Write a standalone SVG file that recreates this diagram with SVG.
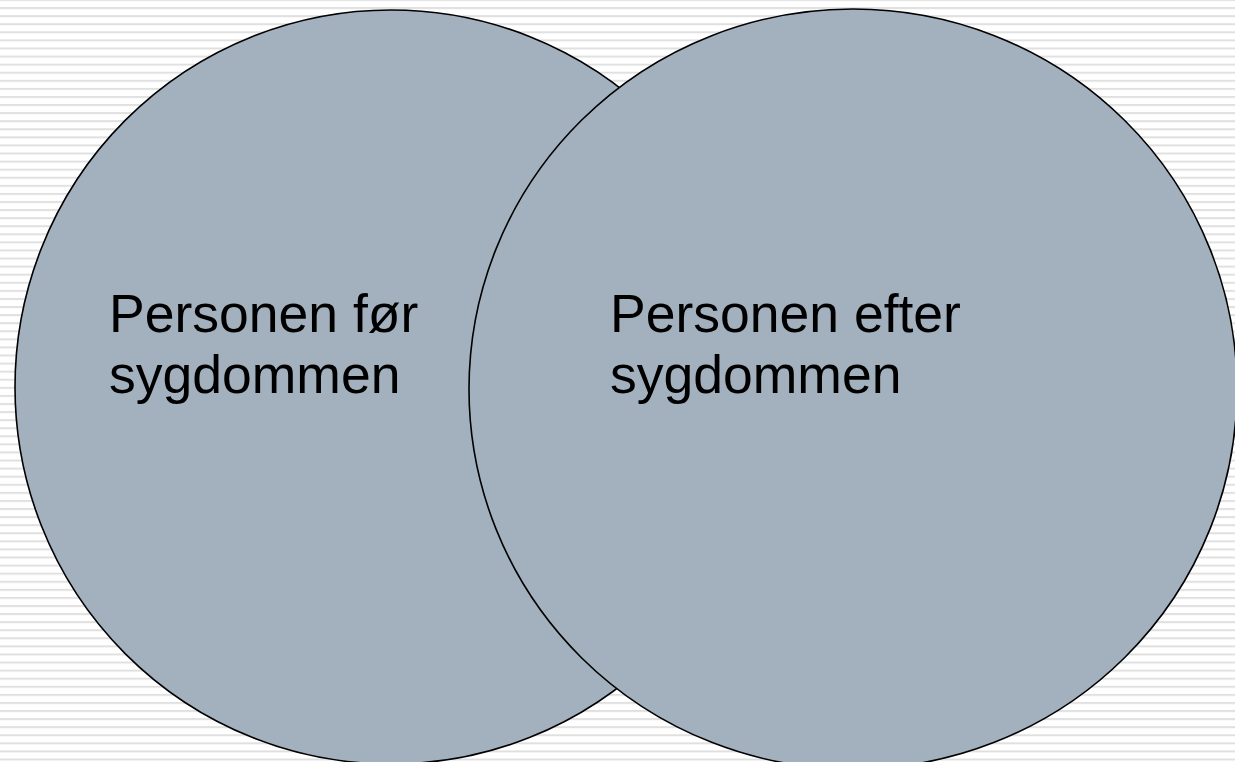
<svg xmlns="http://www.w3.org/2000/svg" width="1235" height="762" viewBox="0 0 1235 762">
  <defs>
    <pattern id="stripes" x="0" y="-1" width="20" height="8.08" patternUnits="userSpaceOnUse">
      <rect x="0" y="0" width="20" height="2" fill="#e0e0e0"/>
    </pattern>
  </defs>
  <style>
    .bubble { fill: #a3b1bf; stroke: #000000; stroke-width: 1.6; }
    .label { font-family: "Liberation Sans", Arial, sans-serif; font-size: 53.5px; fill: #000000; }
  </style>
  <rect x="0" y="0" width="1235" height="762" fill="#ffffff"/>
  <rect x="0" y="0" width="1235" height="762" fill="url(#stripes)"/>
  <g id="connectors"></g>
  <g id="node-before">
    <ellipse class="bubble" cx="391" cy="387" rx="376" ry="377"/>
  </g>
  <g id="node-after">
    <ellipse class="bubble" cx="853" cy="389" rx="384" ry="380"/>
  </g>
  <g id="label-before">
    <text class="label" x="109" y="332">Personen før</text>
    <text class="label" x="109" y="393">sygdommen</text>
  </g>
  <g id="label-after">
    <text class="label" x="610" y="332">Personen efter</text>
    <text class="label" x="610" y="393">sygdommen</text>
  </g>
</svg>
